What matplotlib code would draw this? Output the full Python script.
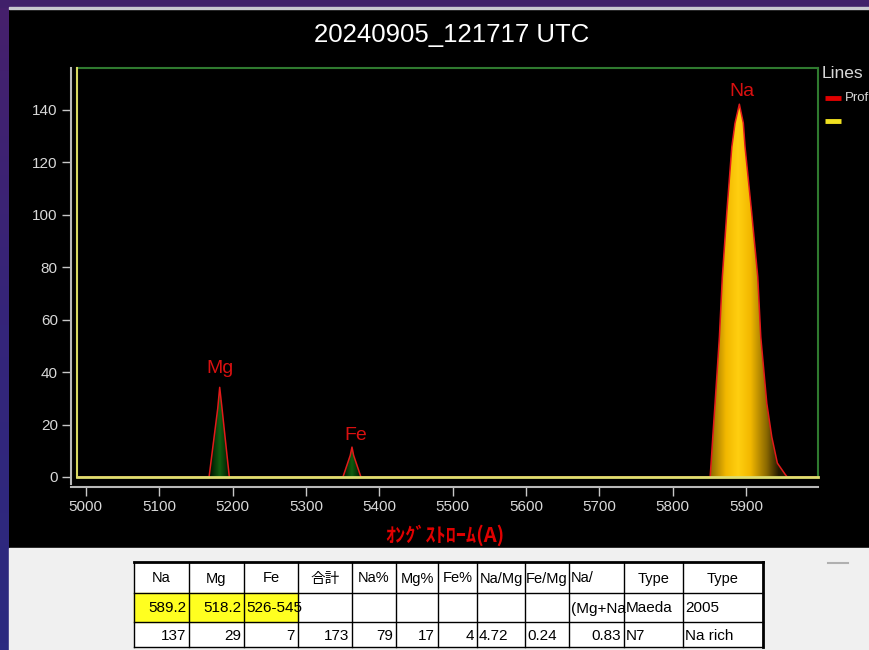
import matplotlib
matplotlib.use('Agg')
import numpy as np
import matplotlib.pyplot as plt
from matplotlib.colors import LinearSegmentedColormap
from matplotlib.patches import Rectangle, Polygon

plt.rcParams['font.family'] = ['Liberation Sans', 'DejaVu Sans']

# spectrum profile, one list per emission peak (angstrom, counts)
mg_wl = [5168.0, 5179.8, 5182.5, 5185.7, 5195.6]
mg_int = [0, 26.1, 34.2, 26.1, 0]
fe_wl = [5350.5, 5360.5, 5362.8, 5365.0, 5375.0]
fe_int = [0, 8.3, 11.4, 8.3, 0]
na_wl = [5851.0, 5852.3, 5854.6, 5857.7, 5863.6, 5867.6, 5873.6, 5880.5, 5884.9, 5890.8,
         5896.2, 5898.6, 5907.7, 5915.9, 5920.0, 5928.2, 5935.0, 5942.6, 5953.0, 5956.0]
na_int = [0, 5.3, 15.3, 28.1, 53.4, 76.3, 100.5, 125.8, 135.0, 142.2,
          135.0, 125.8, 100.5, 76.3, 53.4, 28.1, 15.3, 5.3, 1.1, 0]
wl_range = [4988, 5998]
baseline = [0, 0]

peak_names = ['Mg', 'Fe', 'Na']
peak_label_pos = [(5183, 41.2), (5368, 16.0), (5894, 147.2)]

x_ticks = list(range(5000, 6000, 100))
y_ticks = list(range(0, 160, 20))

# line ratio table under the chart
tbl_header = ['Na', 'Mg', 'Fe', '合計', 'Na%', 'Mg%', 'Fe%', 'Na/Mg', 'Fe/Mg', 'Na/', 'Type', 'Type']
tbl_lines = ['589.2', '518.2', '526-545', '', '', '', '', '', '', '(Mg+Na', 'Maeda', '2005']
tbl_values = ['137', '29', '7', '173', '79', '17', '4', '4.72', '0.24', '0.83', 'N7', 'Na rich']

fig = plt.figure(figsize=(8.7, 6.5), dpi=100, facecolor='black')

# full-figure pixel canvas for the window decoration, legend and table
bg = fig.add_axes([0, 0, 1, 1], zorder=0)
bg.set_xlim(0, 870)
bg.set_ylim(650, 0)
bg.axis('off')

purple = LinearSegmentedColormap.from_list('purple', ['#46206c', '#35257a', '#2b2a80'])
bg.imshow(np.linspace(0, 1, 100)[:, None], extent=(0, 9, 650, 0), cmap=purple, aspect='auto')
bg.add_patch(Rectangle((0, 0), 870, 7, color='#40206a'))
bg.add_patch(Rectangle((9, 7), 861, 2, color='#c8c8d0'))
bg.add_patch(Rectangle((9, 548), 861, 102, color='#f0f0f0'))

bg.text(452, 35, '20240905_121717 UTC', color='white', fontsize=18.5,
        ha='center', va='center')
bg.text(445, 535, 'ｵﾝｸﾞｽﾄﾛｰﾑ(A)', color='#e00000', fontsize=14.5, fontweight='bold',
        family=['Noto Sans CJK JP', 'DejaVu Sans'], ha='center', va='center')

# legend
bg.text(822, 73, 'Lines', color='#d8d8d8', fontsize=12.5, va='center')
bg.plot([825, 841], [98, 98], color='#e00000', lw=3.5, solid_capstyle='butt')
bg.text(845, 98, 'Prof', color='#d8d8d8', fontsize=9.5, va='center')
bg.plot([825, 841], [121, 121], color='#f0e020', lw=3.5, solid_capstyle='butt')

# main plot
ax = fig.add_axes([77 / 870, 1 - 477 / 650, (818 - 77) / 870, (477 - 68) / 650],
                  zorder=2, facecolor='black')
ax.set_xlim(*wl_range)
ax.set_ylim(0, 156)

for s in ['top', 'right']:
    ax.spines[s].set_visible(False)
ax.spines['left'].set_position(('outward', 4.3))
ax.spines['bottom'].set_position(('outward', 7.2))
ax.spines['left'].set_bounds(-2.6, 156)
ax.spines['bottom'].set_bounds(4980, 5998)
for s in ['left', 'bottom']:
    ax.spines[s].set_color('#b8b8b8')
    ax.spines[s].set_linewidth(1.5)

ax.set_xticks(x_ticks)
ax.set_yticks(y_ticks)
ax.tick_params(colors='#c8c8c8', labelcolor='#d8d8d8', length=6.5, width=1,
               labelsize=11, direction='out', pad=3)

# plot frame: green top/right, yellow left
ax.plot([0, 1], [1, 1], transform=ax.transAxes, color='#2f7a2f', lw=1.5, clip_on=False)
ax.plot([1, 1], [0, 1], transform=ax.transAxes, color='#2f7a2f', lw=1.5, clip_on=False)
ax.plot([0, 0], [0, 1], transform=ax.transAxes, color='#d8d860', lw=1.5, clip_on=False)


def gradient_fill(x, y, center, half, cmap):
    verts = list(zip(x, y)) + [(x[-1], 0), (x[0], 0)]
    patch = Polygon(verts, closed=True, facecolor='none', edgecolor='none')
    ax.add_patch(patch)
    xs = np.linspace(x[0], x[-1], 400)
    d = np.clip(np.abs(xs - center) / half, 0, 1)
    im = ax.imshow(d[None, :], extent=(x[0], x[-1], 0, max(y)), cmap=cmap, vmin=0, vmax=1,
                   aspect='auto', origin='lower', zorder=2, interpolation='bilinear')
    im.set_clip_path(patch)


gold = LinearSegmentedColormap.from_list('gold', [(0, '#ffcf10'), (0.3, '#f2b800'),
                                                  (0.7, '#8a6800'), (1, '#221800')])
green = LinearSegmentedColormap.from_list('green', [(0, '#0f5c0f'), (0.5, '#083808'),
                                                    (1, '#001000')])
gradient_fill(mg_wl, mg_int, 5182.3, 13, green)
gradient_fill(fe_wl, fe_int, 5362.6, 12, green)
gradient_fill(na_wl, na_int, 5889, 55, gold)

profile_x = [wl_range[0]] + mg_wl + fe_wl + na_wl + [wl_range[1]]
profile_y = [0] + mg_int + fe_int + na_int + [0]
ax.plot(profile_x, profile_y, color='#e31a1a', lw=1.1, zorder=3)
ax.plot(wl_range, baseline, color='#dede70', lw=2, zorder=4, clip_on=False)

for name, (px, py) in zip(peak_names, peak_label_pos):
    ax.text(px, py, name, color='#d81010', fontsize=14, ha='center', va='center')

ax.set_xlim(*wl_range)
ax.set_ylim(0, 156)

# table
col_edges = [134, 189, 244, 298, 352, 396, 438, 477, 525, 569, 624, 683, 763]
row_edges = [562, 593, 622, 647]
bg.add_patch(Rectangle((col_edges[0], row_edges[0]), col_edges[-1] - col_edges[0],
                       row_edges[-1] - row_edges[0], color='white'))
bg.add_patch(Rectangle((col_edges[0], row_edges[1]), col_edges[3] - col_edges[0],
                       row_edges[2] - row_edges[1], color='#ffff20'))
for i, cx in enumerate(col_edges):
    lw = 2 if i == len(col_edges) - 1 else 1
    bg.plot([cx, cx], [row_edges[0], row_edges[-1]], color='black', lw=lw)
for i, ry in enumerate(row_edges):
    lw = 2 if i == 0 else 1
    bg.plot([col_edges[0], col_edges[-1]], [ry, ry], color='black', lw=lw)
bg.plot([828, 848], [563, 563], color='#b0b0b0', lw=1.5)

tbl_font = ['Liberation Sans', 'Noto Sans CJK JP', 'DejaVu Sans']
header_align = ['c'] * 9 + ['l', 'c', 'c']
lines_align = ['r', 'r', 'l', 'l', 'l', 'l', 'l', 'l', 'l', 'l', 'l', 'l']
values_align = ['r'] * 7 + ['l', 'l', 'r', 'l', 'l']


def cell_text(row, texts, aligns, size=11):
    yc = (row_edges[row] + row_edges[row + 1]) / 2 + 1
    for j, (t, a) in enumerate(zip(texts, aligns)):
        if not t:
            continue
        x0, x1 = col_edges[j], col_edges[j + 1]
        if a == 'r':
            bg.text(x1 - 3, yc, t, ha='right', va='center', fontsize=size, family=tbl_font)
        elif a == 'l':
            bg.text(x0 + 2, yc, t, ha='left', va='center', fontsize=size, family=tbl_font)
        else:
            bg.text((x0 + x1) / 2, yc, t, ha='center', va='center', fontsize=size, family=tbl_font)


cell_text(0, tbl_header, header_align, size=10.5)
cell_text(1, tbl_lines, lines_align)
cell_text(2, tbl_values, values_align)

fig.savefig('out.png', dpi=100, facecolor='black')
